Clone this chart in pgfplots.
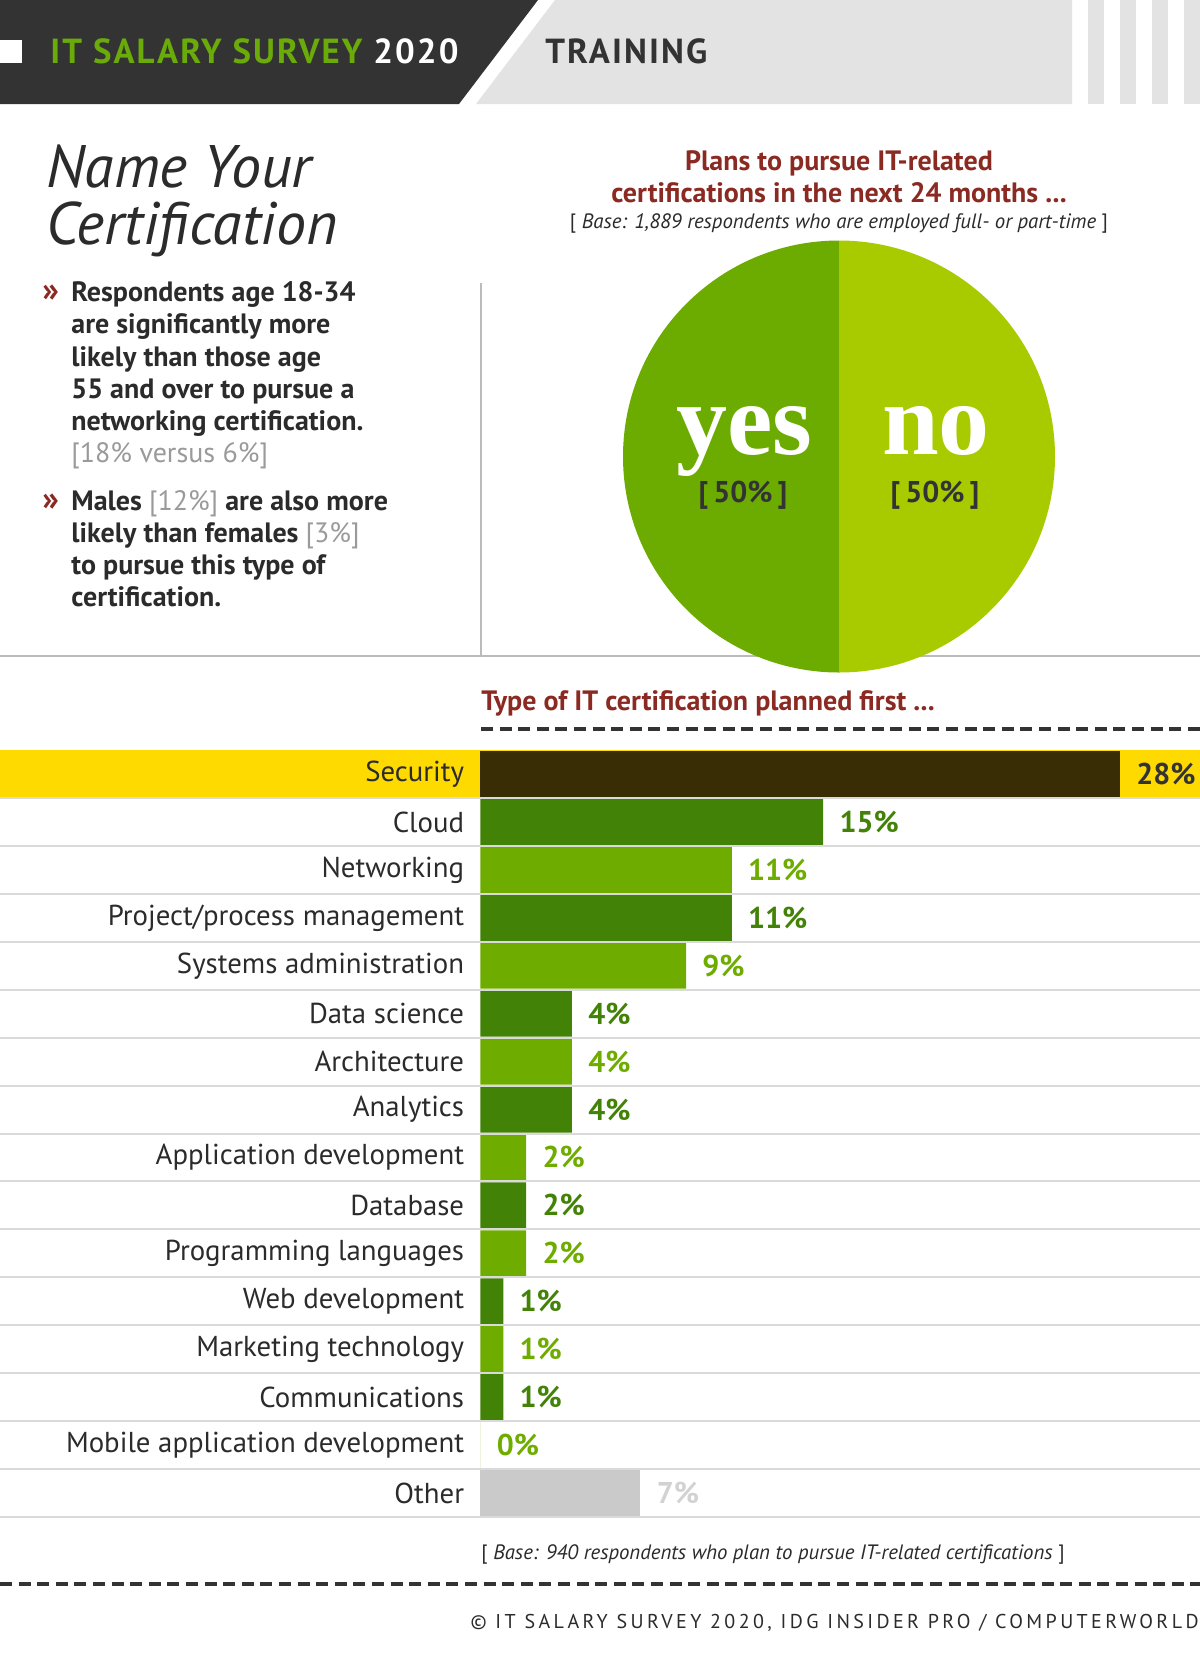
\documentclass[border=0pt]{standalone}
\usepackage{fontspec}
\usepackage{pgfplots}
\pgfplotsset{compat=1.18}
\setmainfont{PT Sans}
\newfontfamily\hdrfont[LetterSpace=6]{PT Sans}
\newfontfamily\copyfont[LetterSpace=17]{PT Sans}
\newfontfamily\seriffont{Liberation Serif}
\definecolor{hdrdark}{HTML}{333333}
\definecolor{hdrlight}{HTML}{E3E3E3}
\definecolor{hdrgreen}{HTML}{6AAB0A}
\definecolor{txtdark}{HTML}{2B2B2B}
\definecolor{darkred}{HTML}{8B2A22}
\definecolor{grayt}{HTML}{9A9A9A}
\definecolor{pieyes}{HTML}{6CAC00}
\definecolor{pieno}{HTML}{A8CB00}
\definecolor{bardark}{HTML}{428207}
\definecolor{barlight}{HTML}{6EAD00}
\definecolor{barsec}{HTML}{382D04}
\definecolor{secyellow}{HTML}{FFDA00}
\definecolor{barother}{HTML}{CACACA}
\definecolor{sepline}{HTML}{DADADA}
\definecolor{rule}{HTML}{BBBBBB}
\newcommand\gr[1]{{\mdseries\color{grayt}#1}}
\begin{document}
\begin{tikzpicture}
\useasboundingbox (0pt,0pt) rectangle (600pt,-828pt);
\clip (0pt,0pt) rectangle (600pt,-828pt);
\fill[white] (0pt,0pt) rectangle (600pt,-828pt);
\begin{scope}[x=0.5pt,y=-0.5pt]
% ---------- header
\fill[hdrdark] (0,0) -- (538,0) -- (459,104) -- (0,104) -- cycle;
\fill[hdrlight] (555,0) -- (1072,0) -- (1072,104) -- (476,104) -- cycle;
\foreach \xx in {1088,1120,1152,1184} {\fill[hdrlight] (\xx,0) rectangle (\xx+16,104);}
\fill[white] (0,40) rectangle (22,63);
\node[anchor=base west, inner sep=0, text=hdrgreen, font=\hdrfont\bfseries\fontsize{17.4}{20}\selectfont] at (50,63) {IT SALARY SURVEY \textcolor{white}{2020}};
\node[anchor=base west, inner sep=0, text=hdrdark, font=\hdrfont\bfseries\fontsize{17.4}{20}\selectfont] at (545,63) {TRAINING};
% ---------- title
\node[anchor=base west, inner sep=0, text=txtdark, font=\itshape\fontsize{30}{36}\selectfont] at (46,187) {Name Your};
\node[anchor=base west, inner sep=0, text=txtdark, font=\itshape\fontsize{30}{36}\selectfont] at (46,244) {Certification};
% ---------- bullets
\begin{scope}[every node/.style={anchor=base west, inner sep=0, text=txtdark, font=\bfseries\fontsize{14}{16}\selectfont}]
\node[text=darkred, font=\bfseries\fontsize{17}{18}\selectfont] at (42,301) {»};
\node at (71,301) {Respondents age 18-34};
\node at (71,333.5) {are significantly more};
\node at (71,366) {likely than those age};
\node at (71,398) {55 and over to pursue a};
\node at (71,430) {networking certification.};
\node at (71,462.5) {\gr{[18\% versus 6\%]}};
\node[text=darkred, font=\bfseries\fontsize{17}{18}\selectfont] at (42,510) {»};
\node at (71,510) {Males \gr{[12\%]} are also more};
\node at (71,542) {likely than females \gr{[3\%]}};
\node at (71,574.5) {to pursue this type of};
\node at (71,606.5) {certification.};
\end{scope}
% ---------- rules
\draw[rule, line width=1pt] (480.5,283) -- (480.5,656);
\draw[rule, line width=1pt] (0,656) -- (1200,656);
% ---------- pie titles
\node[anchor=base, inner sep=0, text=darkred, font=\bfseries\fontsize{14}{16}\selectfont] at (839,170) {Plans to pursue IT-related};
\node[anchor=base, inner sep=0, text=darkred, font=\bfseries\fontsize{14}{16}\selectfont] at (839,202) {certifications in the next 24 months ...};
\node[anchor=base, inner sep=0, text=txtdark, font=\fontsize{10.4}{12}\selectfont] at (839,228) {[ \textit{Base: 1,889 respondents who are employed full- or part-time} ]};
% ---------- pie (yes 50, no 50)
\def\yesval{50}
\begin{scope}[shift={(839,456.5)}, yscale=-1]
\fill[pieyes] (0,0) -- (90:216) arc[start angle=90, end angle={90+3.6*\yesval}, radius=216] -- cycle;
\fill[pieno] (0,0) -- ({90+3.6*\yesval}:216) arc[start angle={90+3.6*\yesval}, end angle=450, radius=216] -- cycle;
\end{scope}
\node[anchor=base, inner sep=0, text=white, font=\seriffont\bfseries\fontsize{51}{56}\selectfont] at (744,454) {yes};
\node[anchor=base, inner sep=0, text=white, font=\seriffont\bfseries\fontsize{51}{56}\selectfont] at (936,454) {no};
\node[anchor=base, inner sep=0, text=hdrdark, font=\bfseries\fontsize{15}{18}\selectfont] at (743,502) {[\,50\%\,]};
\node[anchor=base, inner sep=0, text=hdrdark, font=\bfseries\fontsize{15}{18}\selectfont] at (935,502) {[\,50\%\,]};
% ---------- bar chart title
\node[anchor=base west, inner sep=0, text=darkred, font=\bfseries\fontsize{14}{16}\selectfont] at (481,710) {Type of IT certification planned first ...};
\draw[hdrdark, line width=1.7pt, dash pattern=on 6pt off 3.3pt] (481,729) -- (1200,729);
% ---------- highlight row
\fill[secyellow] (0,750) rectangle (1200,797.9);
\end{scope}
% ---------- bars
\begin{axis}[
  at={(240.25pt,-758.5pt)}, anchor=south west,
  scale only axis, width=359.75pt, height=383.5pt,
  xmin=0, xmax=31.5, ymin=-0.5, ymax=15.5, y dir=reverse,
  axis line style={draw=none}, tick style={draw=none}, major tick length=0pt,
  xtick=\empty, ytick={0,...,15},
  yticklabels={Security,Cloud,Networking,Project/process management,Systems administration,Data science,Architecture,Analytics,Application development,Database,Programming languages,Web development,Marketing technology,Communications,Mobile application development,Other},
  yticklabel style={anchor=east, inner sep=0pt, xshift=-8pt, text=txtdark, font=\fontsize{14.4}{16}\selectfont},
  xbar, bar width=23pt, bar shift=0pt, clip=false,
  /pgf/number format/assume math mode=true,
  nodes near coords={\pgfmathprintnumber{\pgfplotspointmeta}\%},
  point meta=x,
  every node near coord/.append style={anchor=west, inner sep=0pt, xshift=8pt, font=\bfseries\fontsize{15}{18}\selectfont},
]
\addplot[fill=barsec, draw=none, every node near coord/.append style={text=hdrdark}] coordinates {(28,0)};
\addplot[fill=bardark, draw=none, every node near coord/.append style={text=bardark}] coordinates {(15,1) (11,3) (4,5) (4,7) (2,9) (1,11) (1,13)};
\addplot[fill=barlight, draw=none, every node near coord/.append style={text=barlight}] coordinates {(11,2) (9,4) (4,6) (2,8) (2,10) (1,12) (0,14)};
\addplot[fill=barother, draw=none, every node near coord/.append style={text=barother!85!white}] coordinates {(7,15)};
\end{axis}
\begin{scope}[x=0.5pt,y=-0.5pt]
% ---------- row separators
\foreach \k in {1,...,16} {\draw[sepline, line width=1pt] (0,{750+47.94*\k}) -- (1200,{750+47.94*\k});}
% ---------- footer
\node[anchor=base west, inner sep=0, text=txtdark, font=\fontsize{10.4}{12}\selectfont] at (481,1559) {[ \textit{Base: 940 respondents who plan to pursue IT-related certifications} ]};
\draw[hdrdark, line width=1.7pt, dash pattern=on 6pt off 3.3pt] (0,1584) -- (1200,1584);
\node[anchor=base east, inner sep=0, text=txtdark, font=\copyfont\fontsize{10}{12}\selectfont] at (1199,1628) {© IT SALARY SURVEY 2020, IDG INSIDER PRO / COMPUTERWORLD};
\end{scope}
\end{tikzpicture}
\end{document}
